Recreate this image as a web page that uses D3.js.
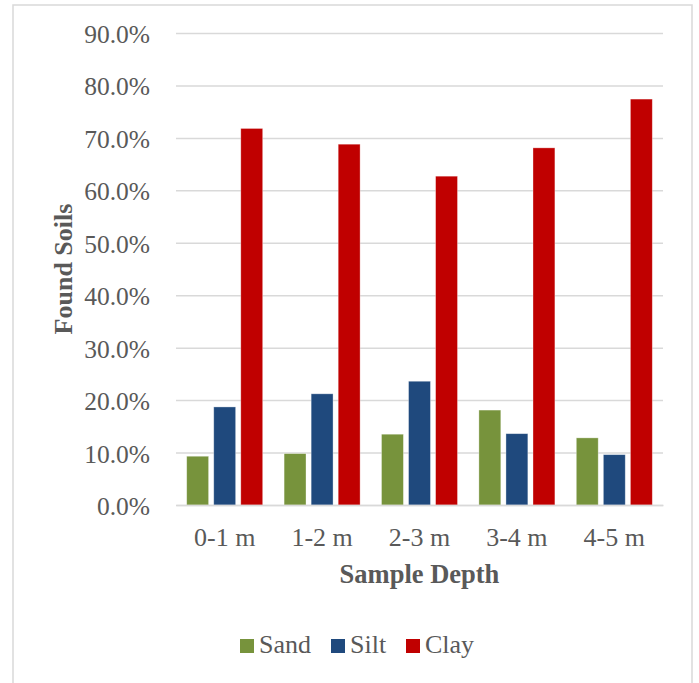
<!DOCTYPE html>
<html><head><meta charset="utf-8">
<script src="https://cdn.jsdelivr.net/npm/d3@7"></script>
<style>body{margin:0;background:#fff}svg{display:block}</style>
</head><body>
<script>
const categories = ["0-1 m","1-2 m","2-3 m","3-4 m","4-5 m"];
const seriesNames = ["Sand","Silt","Clay"];
const sand = [9.3, 9.8, 13.5, 18.1, 12.8];
const silt = [18.7, 21.2, 23.6, 13.6, 9.6];
const clay = [71.8, 68.8, 62.7, 68.1, 77.4];
const yTicks = [0,10,20,30,40,50,60,70,80,90];
const colors = ["#77933C","#1F497D","#C00000"];
const seriesValues = [sand, silt, clay];

(function(){
const W = 699, H = 683;
const svg = d3.select("body").append("svg").attr("width", W).attr("height", H);
const font = "'Liberation Serif','Times New Roman',serif";
const textColor = "#595959";
const fs = "25.5px";

svg.append("rect").attr("x",13).attr("y",5).attr("width",679).attr("height",690)
  .attr("fill","#fff").attr("stroke","#D9D9D9").attr("stroke-width",1.5);

const pLeft = 176, pRight = 663, pTop = 33, pBottom = 505;
const x0 = d3.scaleBand().domain(categories).range([pLeft,pRight]).paddingInner(0).paddingOuter(0);
const y = d3.scaleLinear().domain([0,90]).range([pBottom, pTop]);
const x1 = d3.scaleBand().domain(seriesNames).range([10.7, x0.bandwidth()-10.7]).paddingInner(0.19);

// gridlines
const yAxis = d3.axisLeft(y).tickValues(yTicks).tickSize(-(pRight-pLeft)).tickFormat(d => d.toFixed(1)+"%");
const gy = svg.append("g").attr("transform",`translate(${pLeft},0)`).call(yAxis);
gy.select(".domain").remove();
gy.selectAll(".tick line").attr("stroke","#D9D9D9").attr("stroke-width",1.5);
gy.selectAll(".tick text").attr("x",-26).attr("dy","9.5px").attr("fill",textColor)
  .style("font-family",font).style("font-size",fs);

// bars
const groups = svg.append("g").selectAll("g").data(categories).join("g")
  .attr("transform", d => `translate(${x0(d)},0)`);
groups.selectAll("rect").data((d,i) => seriesNames.map((s,j) => ({s, v: seriesValues[j][i], c: colors[j]})))
  .join("rect")
  .attr("x", d => x1(d.s)).attr("width", x1.bandwidth())
  .attr("y", d => y(d.v)).attr("height", d => pBottom - y(d.v))
  .attr("fill", d => d.c).attr("stroke","rgba(255,255,255,0.45)").attr("stroke-width",0.75);

// x axis
const xAxis = d3.axisBottom(x0).tickSize(0).tickPadding(0);
const gx = svg.append("g").attr("transform",`translate(0,${pBottom})`).call(xAxis);
gx.select(".domain").attr("stroke","#D9D9D9").attr("stroke-width",1.5);
gx.selectAll(".tick text").attr("y",41).attr("dy",0).attr("fill",textColor)
  .style("font-family",font).style("font-size","26px");

// axis titles
svg.append("text").attr("x",(pLeft+pRight)/2).attr("y",583).attr("text-anchor","middle")
  .attr("fill",textColor).style("font-family",font).style("font-size","26.5px").style("font-weight","bold")
  .text("Sample Depth");
svg.append("text").attr("transform",`translate(72,${(pTop+pBottom)/2}) rotate(-90)`).attr("text-anchor","middle")
  .attr("fill",textColor).style("font-family",font).style("font-size","26px").style("font-weight","bold")
  .text("Found Soils");

// legend
const legendX = [240, 331, 406];
const lg = svg.append("g").selectAll("g").data(seriesNames).join("g")
  .attr("transform",(d,i)=>`translate(${legendX[i]},639)`);
lg.append("rect").attr("width",14).attr("height",14).attr("fill",(d,i)=>colors[i]);
lg.append("text").attr("x",19).attr("y",14).attr("fill",textColor)
  .style("font-family",font).style("font-size","26px").text(d=>d);
})();
</script>
</body></html>
